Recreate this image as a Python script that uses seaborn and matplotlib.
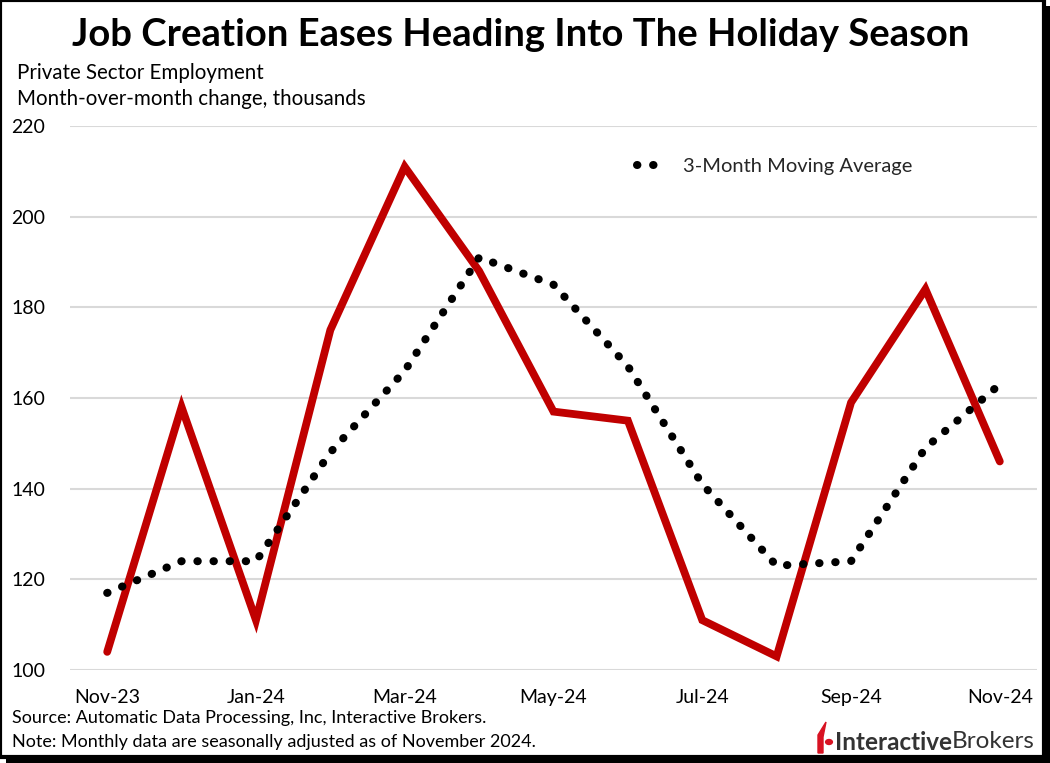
import matplotlib
matplotlib.use("Agg")
import matplotlib.pyplot as plt
import seaborn as sns
import pandas as pd
from matplotlib.patches import Rectangle, Polygon, Circle

months = ["Nov-23", "Dec-23", "Jan-24", "Feb-24", "Mar-24", "Apr-24", "May-24",
          "Jun-24", "Jul-24", "Aug-24", "Sep-24", "Oct-24", "Nov-24"]
monthly_change = [104, 158, 111, 175, 211, 188, 157, 155, 111, 103, 159, 184, 146]
moving_avg_3m = [117, 124, 124, 148, 166, 191, 185, 167, 141, 123, 124, 149, 163]
y_ticks = [100, 120, 140, 160, 180, 200, 220]
x_tick_labels = ["Nov-23", "Jan-24", "Mar-24", "May-24", "Jul-24", "Sep-24", "Nov-24"]

df = pd.DataFrame({"idx": range(len(months)), "month": months,
                   "monthly": monthly_change, "ma": moving_avg_3m})

sns.set_theme(style="white")
plt.rcParams["font.family"] = ["Lato", "DejaVu Sans"]

W, H = 1050, 763
fig = plt.figure(figsize=(W / 100, H / 100), dpi=100)
ax = fig.add_axes([70 / W, 1 - 670 / H, (1037 - 70) / W, (670 - 126) / H])

DOTS = (0.05, 1.95)
sns.lineplot(data=df, x="idx", y="monthly", ax=ax, color="#C00000", linewidth=5.6,
             solid_capstyle="round", solid_joinstyle="miter", zorder=3, label="_nolegend_")
sns.lineplot(data=df, x="idx", y="ma", ax=ax, color="black", linewidth=5.8,
             zorder=4, label="3-Month Moving Average")
ma_line = ax.get_lines()[-1]
ma_line.set_dashes(DOTS)
ma_line.set_dash_capstyle("round")

ax.set_xlim(-0.5, len(months) - 0.5)
ax.set_ylim(100, 220)
ax.set_yticks(y_ticks)
ax.set_yticklabels([str(v) for v in y_ticks])
ax.set_xticks([months.index(m) for m in x_tick_labels])
ax.set_xticklabels(x_tick_labels)
ax.grid(axis="y", color="#D9D9D9", linewidth=1.5, zorder=0)
ax.grid(axis="x", visible=False)
for s in ax.spines.values():
    s.set_visible(False)
ax.tick_params(axis="y", length=0, pad=18, labelsize=14, labelcolor="black")
ax.tick_params(axis="x", length=0, pad=14, labelsize=14, labelcolor="black")
ax.set_xlabel("")
ax.set_ylabel("")

leg = ax.legend(loc="upper right", bbox_to_anchor=(0.89, 0.975), frameon=False,
                fontsize=14.5, handlelength=1.2, handletextpad=1.1)
for h in leg.get_lines():
    h.set_dashes(DOTS)
    h.set_dash_capstyle("round")

# Title and subtitles
fig.text(521 / W, 1 - 35 / H, "Job Creation Eases Heading Into The Holiday Season",
         ha="center", va="center", fontsize=27.5, fontweight="bold", color="black")
fig.text(17 / W, 1 - 73 / H, "Private Sector Employment", ha="left", va="center",
         fontsize=14.8, color="black")
fig.text(17 / W, 1 - 99 / H, "Month-over-month change, thousands", ha="left",
         va="center", fontsize=14.8, color="black")

# Footer
fig.text(12 / W, 1 - 718 / H, "Source: Automatic Data Processing, Inc, Interactive Brokers.",
         ha="left", va="center", fontsize=13, color="black")
fig.text(12 / W, 1 - 742 / H, "Note: Monthly data are seasonally adjusted as of November 2024.",
         ha="left", va="center", fontsize=13, color="black")

# Logo
t1 = fig.text(835 / W, 1 - 742 / H, "Interactive", ha="left", va="center",
              fontsize=17.5, fontweight="bold", color="#333333")
fig.canvas.draw()
bb = t1.get_window_extent()
fig.text(bb.x1 / W, 1 - 742 / H, "Brokers", ha="left", va="center",
         fontsize=17.5, color="#333333")
fig.patches.append(Polygon([[818 / W, 1 - 753 / H], [818 / W, 1 - 735 / H],
                            [826 / W, 1 - 722 / H], [823 / W, 1 - 737 / H],
                            [823 / W, 1 - 753 / H]],
                           closed=True, transform=fig.transFigure, color="#D81222"))
fig.patches.append(Circle((829 / W, 1 - 742 / H), 3.4 / W, transform=fig.transFigure,
                          color="#D81222"))

# Frame with shadow
fig.patches.append(Rectangle((6 / W, 0), 1 - 6 / W, 1 - 6 / H, transform=fig.transFigure,
                             facecolor="black", edgecolor="none", zorder=-2))
fig.patches.append(Rectangle((0, 6 / H), 1 - 6 / W, 1 - 6 / H, transform=fig.transFigure,
                             facecolor="white", edgecolor="black", linewidth=3, zorder=-1))

fig.savefig("out.png", dpi=100)
